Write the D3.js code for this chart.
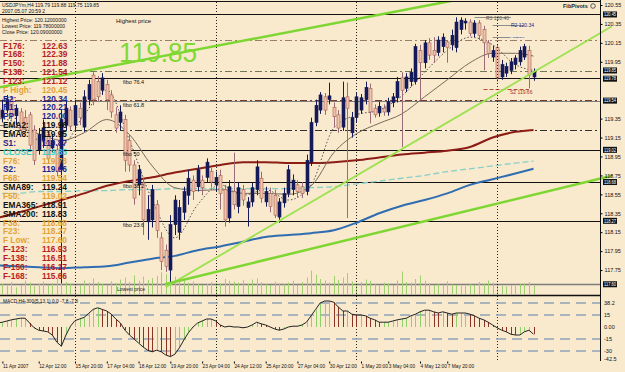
<!DOCTYPE html>
<html>
<head>
<meta charset="utf-8">
<script src="https://cdn.jsdelivr.net/npm/d3@7"></script>
<style>
body { margin: 0; background: #F9E9CD; }
svg text { font-family: 'Liberation Sans', Arial, sans-serif; }
</style>
</head>
<body>
<div id="chart"></div>
<script>
// H4 candles, [open, high, low, close]
var candles = [
	[119.49,119.55,119.31,119.36],[119.46,119.52,119.28,119.34],[119.36,119.55,119.31,119.44],[119.44,119.60,119.41,119.55],[119.55,119.58,119.34,119.39],
	[119.38,119.50,119.28,119.46],[119.42,119.46,119.18,119.23],[119.36,119.44,119.20,119.25],[119.39,119.42,119.02,119.07],[119.23,119.28,118.86,118.91],
	[119.02,119.25,118.97,119.18],[119.12,119.34,119.04,119.25],[119.18,119.23,118.88,118.93],[119.04,119.18,118.99,119.12],[119.02,119.07,118.74,118.79],
	[118.81,119.44,117.61,119.34],[119.28,119.53,119.23,119.46],[119.44,119.48,119.23,119.27],[119.28,119.55,119.23,119.49],[119.46,119.52,119.28,119.36],
	[119.26,119.65,119.21,119.58],[119.55,119.76,119.49,119.71],[119.81,119.84,119.49,119.55],[119.74,119.80,119.53,119.58],[119.65,119.83,119.60,119.78],
	[119.71,119.76,119.44,119.55],[119.60,119.65,119.36,119.42],[119.39,119.47,119.20,119.25],[119.31,119.49,119.23,119.42],[119.34,119.39,118.79,118.91],
	[119.12,119.18,118.79,118.86],[118.86,118.91,118.44,118.51],[118.65,118.86,118.54,118.81],[118.67,118.72,118.12,118.28],[118.26,118.54,118.07,118.39],
	[118.28,118.65,118.20,118.60],[118.44,118.49,118.09,118.17],[118.09,118.15,117.75,117.84],[117.96,118.02,117.73,117.79],[117.75,118.33,117.60,118.23],
	[118.23,118.54,118.12,118.49],[118.15,118.49,118.07,118.41],[118.36,118.63,118.28,118.58],[118.54,118.81,118.44,118.72],[118.70,118.75,118.49,118.58],
	[118.63,118.86,118.58,118.81],[118.70,118.75,118.54,118.62],[118.73,118.93,118.68,118.89],[118.79,118.83,118.62,118.68],[118.65,118.79,118.58,118.73],
	[118.75,118.81,118.39,118.56],[118.60,118.65,118.21,118.28],[118.30,118.70,118.25,118.63],[118.58,118.99,118.39,118.44],[118.42,118.67,118.35,118.62],
	[118.60,118.65,118.43,118.49],[118.41,118.52,118.21,118.47],[118.47,118.67,118.42,118.62],[118.60,118.91,118.54,118.84],[118.72,118.79,118.46,118.51],
	[118.47,118.63,118.42,118.58],[118.56,118.62,118.36,118.42],[118.54,118.60,118.30,118.33],[118.31,118.51,118.25,118.47],[118.46,118.62,118.41,118.56],
	[118.56,118.86,118.52,118.81],[118.60,118.76,118.54,118.70],[118.65,118.70,118.52,118.58],[118.63,118.68,118.51,118.56],[118.58,118.97,118.54,118.91],
	[118.89,119.36,118.85,119.31],[119.31,119.55,119.27,119.49],[119.44,119.63,119.40,119.60],[119.58,119.62,119.39,119.44],[119.55,119.73,119.50,119.59],
	[119.47,119.52,119.26,119.37],[119.39,119.44,119.20,119.25],[119.26,119.74,119.22,119.57],[119.58,119.73,118.30,119.46],[119.20,119.42,119.15,119.36],
	[119.36,119.62,119.31,119.58],[119.44,119.61,119.40,119.57],[119.55,119.74,119.50,119.68],[119.67,119.72,119.30,119.42],[119.46,119.50,119.36,119.39],
	[119.41,119.53,119.37,119.48],[119.46,119.50,119.38,119.42],[119.42,119.57,119.38,119.53],[119.52,119.62,119.47,119.58],[119.57,119.79,119.52,119.74],
	[119.78,119.84,119.05,119.65],[119.67,119.83,119.63,119.79],[119.74,119.88,119.69,119.84],[119.74,120.14,119.71,120.11],[120.07,120.13,119.55,119.94],
	[119.94,120.18,119.88,120.15],[120.15,120.20,119.97,120.02],[120.07,120.21,119.94,120.02],[120.05,120.22,120.01,120.18],[120.11,120.25,120.05,120.21],
	[120.16,120.18,119.94,120.10],[120.13,120.29,120.07,120.23],[120.10,120.42,120.05,120.37],[120.29,120.42,120.24,120.39],[120.36,120.41,120.29,120.38],
	[120.37,120.40,120.22,120.25],[120.25,120.39,120.21,120.36],[120.36,120.39,120.18,120.23],[120.29,120.33,119.86,120.15],[120.15,120.18,119.99,120.04],
	[120.00,120.12,119.95,120.07],[120.10,120.13,119.74,119.78],[119.79,119.97,119.76,119.92],[119.83,119.94,119.79,119.90],[119.86,119.99,119.82,119.95],
	[119.92,120.02,119.87,119.99],[119.95,120.11,119.91,120.07],[120.00,120.14,119.97,120.11],[120.07,120.12,119.67,119.81],[119.79,119.88,119.75,119.85]
];

// tick volume per bar
var volumes = [
	30,25,35,28,40,22,30,45,38,26, 33,41,29,36,50,85,40,35,30,28,
	45,38,52,40,33,30,42,36,48,55, 40,62,44,58,47,53,60,72,66,80,
	58,49,45,38,42,35,30,33,40,37, 35,50,44,41,38,46,35,48,52,39,
	34,30,41,36,33,38,44,30,40,55, 78,64,50,45,38,60,47,55,70,42,
	36,40,48,44,32,30,38,35,30,45, 75,40,38,50,62,44,36,30,34,28,
	42,32,30,26,28,33,30,40,36,45, 38,30,28,25,30,27,32,35,40,28
];

// MACD H4-300(5,13,1) per bar
var macd = [
	4,5,6,7.5,9,10,11,11,5,-1, -4,-5,-6,-10,-19,-24,-10,1,8,10,
	12,17,22,24,22,20,16,10,5,-4, -10,-15,-20,-25,-29,-31,-29,-31,-35,-37,
	-34,-26,-16,-7,0,5,7.5,10,10,7.5, 2.5,0,1,0,0,-1,0,2.5,6,4,
	2.5,0,-2.5,-4,-2.5,0,1,1,2.5,6, 14,22,30,32.5,32.5,31,25,20,20,16,
	15,15,14,11,9,6,6,6,7.5,9, 10,11,14,16,19,21,21,19,17.5,19,
	17.5,16,17.5,17.5,17.5,16,14,11,9,6, 2.5,-1,-4,-6,-9,-10,-10,-6,-4,-9
];

// moving averages, one value every 5 bars
var maStep = 5;
var sma89 = [118.29,118.35,118.42,118.49,118.56,118.64,118.69,118.73,118.78,118.82,118.86,118.89,118.89,118.88,118.88,118.89,118.91,118.94,118.97,118.99,119.01,119.05,119.15,119.21,119.23];
var sma200 = [117.80,117.79,117.78,117.77,117.78,117.79,117.83,117.87,117.90,117.96,118.00,118.05,118.10,118.12,118.14,118.17,118.25,118.35,118.43,118.49,118.56,118.65,118.71,118.77,118.82];
var ema365 = [118.56,118.56,118.58,118.58,118.59,118.59,118.60,118.60,118.61,118.61,118.61,118.61,118.61,118.61,118.62,118.63,118.66,118.69,118.72,118.75,118.79,118.82,118.85,118.88,118.90];
var sma20 = [119.28,119.26,119.19,119.12,119.20,119.34,119.18,118.85,118.62,118.59,118.60,118.56,118.56,118.55,118.64,118.99,119.19,119.30,119.40,119.58,119.76,119.94,120.04,120.04,120.01];
var ema8 = [119.36,119.31,119.12,119.07,119.39,119.65,119.12,118.49,118.09,118.44,118.65,118.54,118.60,118.49,118.65,119.25,119.39,119.44,119.59,119.84,120.07,120.21,120.13,119.92,119.86];

// trend lines [bar, price] -> [bar, price]
var trendTop = [[1.5,119.68],[94,120.53]];
var trendSteep = [[38,117.57],[133.6,120.25]];
var trendLow = [[37.8,117.60],[135.8,118.74]];

// fibo retracement
var fiboPrices = [120.45,119.78,119.54,119.02,118.68,118.27,117.60];
var fiboNames = ['','fibo 76.4','fibo 61.8','fibo 50','fibo 38.2','fibo 23.6',''];
var dashDotLevels = [120.18,119.85,119.55,119.23];

// fib pivots of the last day: [from bar, to bar, price]
var pivotNames = ['R3 120.40','R2 120.34','R1 120.21','S2 119.66'];
var pivotLines = [[106,114,120.42],[110,117,120.34],[110,117,120.21],[108,118,119.66]];

// left info panel
var infoNames = ['F176:','F168:','F150:','F138:','F123:','F High:','R2:','R1:','PP:','EMA2:','EMA8:','S1:','CLOSE:','F76:','S2:','F68:','SMA89:','F50:','EMA365:','SMA200:','F38:','F23:','F Low:','F-123:','F-138:','F-150:','F-168:'];
var infoValues = ['122.63','122.39','121.88','121.54','121.12','120.45','120.34','120.21','120.00','119.96','119.95','119.87','119.85','119.78','119.66','119.54','119.24','119.02','118.91','118.83','118.68','118.27','117.60','116.93','116.51','116.17','115.66'];

var headerLines = ['USDJPYm,H4  119.79 119.88 119.75 119.85','2007.05.07 20:59 2','Highest Price: 120.12000000','Lowest Price: 119.78000000','Close Price: 120.09000000'];

// axes
var priceTicks = [120.55,120.35,120.15,119.95,119.75,119.55,119.35,119.15,118.95,118.75,118.55,118.35,118.15,117.95,117.75,117.55];
var markedPrices = [120.45,119.85,119.78,119.54,119.02,118.68,118.27,117.60];
var macdLevels = [30,15,-15,-30];
var macdTickLabels = ['38.2','15','0.00','-15','-30','-42.5'];
var macdTickValues = [30,15,0,-15,-30,-40];
var separatorBars = [18,49,80,111];
var timeLabelBars = [2,10,18,25,32,39,46,53,60,67,74,81,87,94,100];
var timeLabelText = ['11 Apr 2007','12 Apr 12:00','15 Apr 20:00','17 Apr 04:00','18 Apr 12:00','19 Apr 20:00','23 Apr 04:00','24 Apr 12:00','25 Apr 20:00','27 Apr 04:00','30 Apr 12:00','1 May 20:00','3 May 04:00','4 May 12:00','7 May 20:00'];

var width = 625,
	height = 372,
	axisX = 600;

var x = d3.scaleLinear().domain([0, 119]).range([-6.7, 533.5]);
var y = d3.scaleLinear().domain([117.55, 120.55]).range([289, 5]);
var yVol = d3.scaleLinear().domain([0, 100]).range([294, 264]);
var yMacd = d3.scaleLinear().domain([-42.5, 38.75]).range([361, 296]);

var svg = d3.select('#chart').append('svg')
	.attr('width', width)
	.attr('height', height);

svg.append('rect').attr('width', width).attr('height', height).attr('fill', '#F9E9CD');

var defs = svg.append('defs');
defs.append('clipPath').attr('id', 'clipPrice')
	.append('rect').attr('x', 0).attr('y', 2).attr('width', axisX).attr('height', 292);
defs.append('clipPath').attr('id', 'clipTrend')
	.append('rect').attr('x', 0).attr('y', 2).attr('width', 612).attr('height', 292);
defs.append('clipPath').attr('id', 'clipMacd')
	.append('rect').attr('x', 0).attr('y', 297).attr('width', axisX).attr('height', 64);

var price = svg.append('g').attr('clip-path', 'url(#clipPrice)');

//horizontal levels
price.selectAll('.dd')
	.data(dashDotLevels)
	.enter().append('line')
		.attr('x1', 0).attr('x2', axisX)
		.attr('y1', function(d){ return Math.round(y(d)) + 0.5; })
		.attr('y2', function(d){ return Math.round(y(d)) + 0.5; })
		.attr('stroke', function(d, i){ return ['#9a8068', '#6f7a55', '#7a3a2a', '#333'][i]; })
		.attr('stroke-dasharray', '7,3,2,3');

price.selectAll('.fibo')
	.data(fiboPrices)
	.enter().append('line')
		.attr('x1', 0).attr('x2', axisX)
		.attr('y1', function(d){ return Math.round(y(d)) + 0.5; })
		.attr('y2', function(d){ return Math.round(y(d)) + 0.5; })
		.attr('stroke', function(d, i){ return (i == 2 || i == 6) ? '#7d7d7d' : '#111'; })
		.attr('stroke-width', function(d, i){ return i == 6 ? 1.5 : 1; });

// week separators
svg.selectAll('.sep')
	.data(separatorBars)
	.enter().append('line')
		.attr('x1', function(d){ return Math.round(x(d)) + 0.5; })
		.attr('x2', function(d){ return Math.round(x(d)) + 0.5; })
		.attr('y1', 2).attr('y2', 361)
		.attr('stroke', '#222')
		.attr('stroke-dasharray', '1,2');

//volume
price.selectAll('.vol')
	.data(volumes)
	.enter().append('line')
		.attr('x1', function(d, i){ return Math.round(x(i)) + 0.5; })
		.attr('x2', function(d, i){ return Math.round(x(i)) + 0.5; })
		.attr('y1', yVol(0))
		.attr('y2', function(d){ return yVol(d); })
		.attr('stroke', '#9fcf6f');

//moving averages
function maLine(values){
	return d3.line()
		.x(function(d, i){ return x(Math.min(i * maStep, 119)); })
		.y(function(d){ return y(d); })
		.curve(d3.curveMonotoneX)(values);
}
price.append('path').attr('d', maLine(ema365)).attr('fill', 'none')
	.attr('stroke', '#86d0c8').attr('stroke-width', 1.3).attr('stroke-dasharray', '6,3');
price.append('path').attr('d', maLine(sma200)).attr('fill', 'none')
	.attr('stroke', '#2f6db0').attr('stroke-width', 2);
price.append('path').attr('d', maLine(sma89)).attr('fill', 'none')
	.attr('stroke', '#8c1c14').attr('stroke-width', 2);
price.append('path').attr('d', maLine(sma20)).attr('fill', 'none')
	.attr('stroke', '#7b6a5c').attr('stroke-width', 1);
price.append('path').attr('d', maLine(ema8)).attr('fill', 'none')
	.attr('stroke', '#555').attr('stroke-width', 1).attr('stroke-dasharray', '1.5,2');

//pivot segments
price.selectAll('.piv')
	.data(pivotLines)
	.enter().append('line')
		.attr('x1', function(d){ return x(d[0]); })
		.attr('x2', function(d){ return x(d[1]); })
		.attr('y1', function(d){ return Math.round(y(d[2])) + 0.5; })
		.attr('y2', function(d){ return Math.round(y(d[2])) + 0.5; })
		.attr('stroke', function(d, i){ return i == 3 ? '#b0503a' : '#8c8c8c'; })
		.attr('stroke-dasharray', function(d, i){ return i == 3 ? '4,2' : null; });

//trend lines, extended across the panel
var trend = svg.append('g').attr('clip-path', 'url(#clipTrend)');
function extend(pts, fromLeft){
	var x1 = x(pts[0][0]), y1 = y(pts[0][1]), x2 = x(pts[1][0]), y2 = y(pts[1][1]);
	var k = (y2 - y1) / (x2 - x1);
	var xs = fromLeft ? 0 : x1;
	return [xs, y1 + k * (xs - x1), 612, y1 + k * (612 - x1)];
}
[[trendTop, 2.5, true], [trendSteep, 1.8, false], [trendLow, 2.5, false]].forEach(function(t){
	var p = extend(t[0], t[2]);
	trend.append('line')
		.attr('x1', p[0]).attr('y1', p[1]).attr('x2', p[2]).attr('y2', p[3])
		.attr('stroke', t[1] > 2 ? '#7ed632' : '#9be24e')
		.attr('stroke-width', t[1]);
});

//candles
var bars = price.selectAll('.candle')
	.data(candles)
	.enter().append('g');
bars.append('line')
	.attr('x1', function(d, i){ return Math.round(x(i)) + 0.5; })
	.attr('x2', function(d, i){ return Math.round(x(i)) + 0.5; })
	.attr('y1', function(d){ return y(d[1]); })
	.attr('y2', function(d){ return y(d[2]); })
	.attr('stroke', function(d){ return d[3] >= d[0] ? '#141a5a' : '#9c6a78'; });
bars.append('rect')
	.attr('x', function(d, i){ return Math.round(x(i)) - 1; })
	.attr('width', 3)
	.attr('y', function(d){ return y(Math.max(d[0], d[3])); })
	.attr('height', function(d){ return Math.max(1, Math.abs(y(d[0]) - y(d[3]))); })
	.attr('fill', function(d){ return d[3] >= d[0] ? '#141a5a' : '#eec4ae'; })
	.attr('stroke', function(d){ return d[3] >= d[0] ? '#141a5a' : '#a8604e'; })
	.attr('stroke-width', 0.6);

//MACD window
var macdG = svg.append('g').attr('clip-path', 'url(#clipMacd)');
macdG.selectAll('.lvl')
	.data(macdLevels)
	.enter().append('line')
		.attr('x1', 0).attr('x2', axisX)
		.attr('y1', function(d){ return yMacd(d); })
		.attr('y2', function(d){ return yMacd(d); })
		.attr('stroke', '#8fa2b6').attr('stroke-width', 1.3)
		.attr('stroke-dasharray', '10,6');
macdG.selectAll('.hist')
	.data(macd)
	.enter().append('line')
		.attr('x1', function(d, i){ return Math.round(x(i)) + 0.5; })
		.attr('x2', function(d, i){ return Math.round(x(i)) + 0.5; })
		.attr('y1', yMacd(0))
		.attr('y2', function(d){ return yMacd(d); })
		.attr('stroke', function(d, i){ return (i == 0 || d >= macd[i-1]) ? '#8fd06a' : '#8b3424'; });
macdG.append('path')
	.attr('d', d3.line().x(function(d, i){ return x(i); }).y(function(d){ return yMacd(d); })(macd))
	.attr('fill', 'none').attr('stroke', '#222').attr('stroke-width', 1);

//frame
svg.append('line').attr('x1', 0).attr('x2', axisX).attr('y1', 1.5).attr('y2', 1.5).attr('stroke', '#111');
svg.append('line').attr('x1', 0).attr('x2', axisX).attr('y1', 295.5).attr('y2', 295.5).attr('stroke', '#111').attr('stroke-width', 1.5);
svg.append('line').attr('x1', axisX + 0.5).attr('x2', axisX + 0.5).attr('y1', 0).attr('y2', 361).attr('stroke', '#111');

//price axis, labels under a marker box are hidden as in MT4
var visibleTicks = priceTicks.filter(function(t){
	return !markedPrices.some(function(m){ return Math.abs(y(m) - y(t)) < 6; });
});
var yAxis = svg.append('g')
	.attr('transform', 'translate(' + (axisX + 0.5) + ',0)')
	.call(d3.axisRight(y).tickValues(visibleTicks).tickSize(2).tickPadding(2).tickFormat(d3.format('.2f')));
yAxis.select('.domain').remove();
yAxis.selectAll('text').attr('font-size', '5.5px').attr('fill', '#111');

var boxes = svg.selectAll('.box')
	.data(markedPrices)
	.enter().append('g')
		.attr('transform', function(d, i){
			// the two close markers sit one under the other
			var off = i == 1 ? -0.8 : (i == 2 ? 0.8 : 0);
			return 'translate(603,' + (y(d) + off) + ')';
		});
boxes.append('rect').attr('x', 0).attr('y', -3).attr('width', 14).attr('height', 6).attr('fill', '#111');
boxes.append('text').attr('x', 1).attr('y', 1.7).attr('font-size', '4.6px').attr('fill', '#fff')
	.attr('textLength', 12).attr('lengthAdjust', 'spacingAndGlyphs')
	.text(function(d){ return d.toFixed(2); });

//MACD axis
svg.selectAll('.mt')
	.data(macdTickValues)
	.enter().append('text')
		.attr('x', 604)
		.attr('y', function(d){ return yMacd(d) + 2; })
		.attr('font-size', '5.5px')
		.attr('fill', '#111')
		.text(function(d, i){ return macdTickLabels[i]; });

//time axis
var tAxis = svg.append('g')
	.attr('transform', 'translate(0,361.5)')
	.call(d3.axisBottom(x).tickValues(timeLabelBars).tickSize(2).tickPadding(1)
		.tickFormat(function(d, i){ return timeLabelText[i]; }));
tAxis.select('.domain').remove();
tAxis.selectAll('text').attr('font-size', '4.8px').attr('text-anchor', 'start').attr('fill', '#111');

//texts on the chart
svg.selectAll('.hdr')
	.data(headerLines)
	.enter().append('text')
		.attr('x', 2)
		.attr('y', function(d, i){ return [7, 12.5, 21.5, 27.5, 34][i]; })
		.attr('font-size', '5px')
		.attr('fill', '#111')
		.text(function(d){ return d; });

svg.append('text').attr('x', 116).attr('y', 22.5).attr('font-size', '6px').attr('fill', '#111').text('Highest price');
svg.append('text').attr('x', 119).attr('y', 62).attr('font-size', '27px').attr('fill', '#80d834')
	.attr('textLength', 78).attr('lengthAdjust', 'spacingAndGlyphs').text('119.85');

svg.selectAll('.fname')
	.data(fiboPrices)
	.enter().append('text')
		.attr('x', 123)
		.attr('y', function(d){ return y(d) + 6; })
		.attr('font-size', '5.5px')
		.attr('fill', '#111')
		.text(function(d, i){ return fiboNames[i]; });
svg.append('text').attr('x', 117).attr('y', 291).attr('font-size', '5px').attr('fill', '#222').text('Lowest price');

function infoColor(name){
	if (/^F-|^F1/.test(name)) return '#b81d1d';
	if (/^F/.test(name)) return '#e3a332';
	if (/^(R|S\d|PP)/.test(name)) return '#1f1f8c';
	if (name == 'CLOSE:') return '#41cbc8';
	return '#111';
}
var info = svg.selectAll('.info')
	.data(infoNames)
	.enter().append('g');
info.append('text')
	.attr('x', 3)
	.attr('y', function(d, i){ return 48.5 + i * 8.85; })
	.attr('font-size', '8.3px').attr('font-weight', 'bold')
	.attr('fill', infoColor)
	.text(function(d){ return d; });
info.append('text')
	.attr('x', 42)
	.attr('y', function(d, i){ return 48.5 + i * 8.85; })
	.attr('font-size', '8.3px').attr('font-weight', 'bold')
	.attr('fill', infoColor)
	.text(function(d, i){ return infoValues[i]; });

//fib pivots
svg.append('text').attr('x', 563).attr('y', 8).attr('font-size', '5.5px').attr('font-weight', 'bold').attr('fill', '#222').text('FibPivots');
svg.append('circle').attr('cx', 593).attr('cy', 6).attr('r', 2.3).attr('fill', 'none').attr('stroke', '#222').attr('stroke-width', 0.7);
svg.selectAll('.pivname')
	.data(pivotNames)
	.enter().append('text')
		.attr('x', function(d, i){ return [486, 511, 510, 510][i]; })
		.attr('y', function(d, i){ return y(pivotLines[i][2]) + [3, 2, 2, 5][i]; })
		.attr('font-size', '5px')
		.attr('fill', function(d, i){ return ['#555', '#1f1f8c', '#f4f0ea', '#a8302a'][i]; })
		.text(function(d){ return d; });
svg.append('text').attr('x', 3).attr('y', 302.5).attr('font-size', '4.8px').attr('fill', '#111').text('MACD H4-300(5,13,1) 0.0 -7.8 -7.8');
</script>
</body>
</html>
